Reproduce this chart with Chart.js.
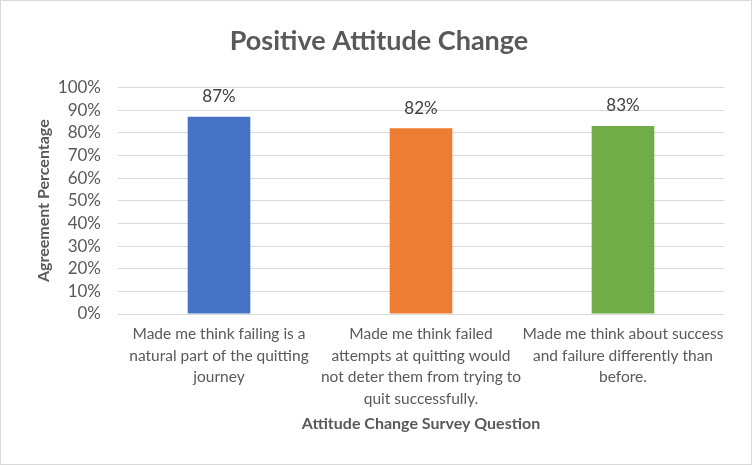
<!DOCTYPE html>
<html>
<head>
<meta charset="utf-8">
<script src="https://cdn.jsdelivr.net/npm/chart.js@4.4.0/dist/chart.umd.min.js"></script>
<style>
  html, body { margin: 0; padding: 0; background: #fff; }
  #wrap { width: 752px; height: 465px; position: relative; }
</style>
</head>
<body>
<div id="wrap"><canvas id="c" width="752" height="465"></canvas></div>
<script>
const categories = [
  ["Made me think failing is a", "natural part of the quitting", "journey"],
  ["Made me think failed", "attempts at quitting would", "not deter them from trying to", "quit successfully."],
  ["Made me think about success", "and failure differently than", "before."]
];
const agreementValues = [87, 82, 83];
const barColors = ["#4472C4", "#ED7D31", "#70AD47"];
const yTickValues = [0, 10, 20, 30, 40, 50, 60, 70, 80, 90, 100];

const FONT = "Lato, 'Open Sans', sans-serif";
const TEXT = "#595959";

const frame = {
  id: 'frame',
  beforeDraw(chart) {
    const ctx = chart.ctx;
    ctx.save();
    ctx.fillStyle = '#fff';
    ctx.fillRect(0, 0, chart.width, chart.height);
    ctx.restore();
  },
  afterDraw(chart) {
    const ctx = chart.ctx;
    ctx.save();
    ctx.strokeStyle = '#d9d9d9';
    ctx.lineWidth = 1;
    ctx.strokeRect(0.5, 0.5, chart.width - 1, chart.height - 1);
    ctx.restore();
  }
};

const valueLabels = {
  id: 'valueLabels',
  afterDatasetsDraw(chart) {
    const ctx = chart.ctx;
    const meta = chart.getDatasetMeta(0);
    ctx.save();
    ctx.fillStyle = '#404040';
    ctx.font = "17px " + FONT;
    ctx.textAlign = 'center';
    ctx.textBaseline = 'middle';
    meta.data.forEach((bar, i) => {
      const v = chart.data.datasets[0].data[i];
      ctx.fillText(Math.round(v) + '%', bar.x, bar.y - 20);
    });
    ctx.restore();
  }
};

new Chart(document.getElementById('c'), {
  type: 'bar',
  data: {
    labels: categories,
    datasets: [{
      data: agreementValues,
      backgroundColor: barColors,
      borderWidth: 0,
      barPercentage: 0.31,
      categoryPercentage: 1.0
    }]
  },
  plugins: [frame, valueLabels],
  options: {
    responsive: false,
    animation: false,
    devicePixelRatio: 1,
    layout: { padding: { left: 34, right: 28, top: 18, bottom: 30 } },
    plugins: {
      legend: { display: false },
      tooltip: { enabled: false },
      title: {
        display: true,
        text: 'Positive Attitude Change',
        color: TEXT,
        font: { family: FONT, size: 27, weight: 'bold' },
        padding: { top: 7, bottom: 30 }
      }
    },
    scales: {
      x: {
        grid: { display: false, drawTicks: false },
        border: { display: false },
        ticks: {
          color: TEXT,
          font: { family: FONT, size: 15.5, lineHeight: 1.4 },
          padding: 9,
          maxRotation: 0,
          minRotation: 0,
          autoSkip: false
        },
        title: {
          display: true,
          text: 'Attitude Change Survey Question',
          color: TEXT,
          font: { family: FONT, size: 16, weight: 'bold' },
          padding: { top: 0, bottom: 2 }
        },
        afterFit(scale) { scale.height = 121; }
      },
      y: {
        min: 0,
        max: 100,
        afterBuildTicks(scale) { scale.ticks = yTickValues.map(v => ({ value: v })); },
        grid: { color: '#d9d9d9', lineWidth: 1, drawTicks: false },
        border: { display: false },
        ticks: {
          color: TEXT,
          font: { family: FONT, size: 17 },
          padding: 17,
          autoSkip: false,
          callback: v => v + '%'
        },
        title: {
          display: true,
          text: 'Agreement Percentage',
          color: TEXT,
          font: { family: FONT, size: 16, weight: 'bold' },
          padding: { top: 0, bottom: 0 }
        },
        afterFit(scale) { scale.width = 84; }
      }
    }
  }
});
</script>
</body>
</html>
